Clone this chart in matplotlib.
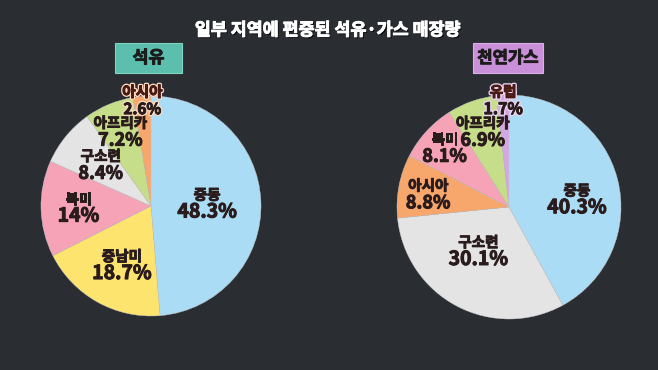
import numpy as np
import matplotlib
matplotlib.use('Agg')
import matplotlib.pyplot as plt
import matplotlib.patheffects as pe
from matplotlib.patches import Rectangle

plt.rcParams['font.family'] = ['Noto Sans CJK KR', 'DejaVu Sans']

# data
oil_regions = ['중동', '중남미', '북미', '구소련', '아프리카', '아시아']
oil_share = [48.3, 18.7, 14, 8.4, 7.2, 2.6]
oil_labels = ['48.3%', '18.7%', '14%', '8.4%', '7.2%', '2.6%']

gas_regions = ['중동', '구소련', '아시아', '북미', '아프리카', '유럽']
gas_share = [40.3, 30.1, 8.8, 8.1, 6.9, 1.7]
gas_labels = ['40.3%', '30.1%', '8.8%', '8.1%', '6.9%', '1.7%']

title = '일부 지역에 편중된 석유·가스 매장량'

# styles
bg = '#2a2e33'
ink = '#2a1c1c'
col = {'중동': '#aadcf5', '중남미': '#fde46f', '북미': '#f6a3b7', '구소련': '#e4e4e4',
       '아프리카': '#c6de8a', '아시아': '#f7a76c', '유럽': '#d3a7e2'}

oil_r = [0.51, 0.60, 0.66, 0.59, 0.73, 0.96]
oil_nudge = [0, 3, 0, 0, 0, 0]
oil_pct_size = [14, 14, 14, 13, 13, 11]

gas_r = [0.61, 0.48, 0.73, 0.78, 0.71, 0.95]
gas_nudge = [-8, -7, 2, 0, 0, 0]
gas_pct_size = [14, 14, 13, 13, 13, 11.5]


def thick(c, halo=None):
    # fake a heavier weight by stroking the glyphs in their own colour
    eff = []
    if halo:
        eff.append(pe.withStroke(linewidth=2.6, foreground=halo))
    eff.append(pe.withStroke(linewidth=0.7, foreground=c))
    return eff


def draw_pie(ax, regions, share, labels, radii, nudges, pct_sizes, halo):
    wedges, _ = ax.pie(share, colors=[col[r] for r in regions], startangle=90,
                       counterclock=False, radius=1,
                       wedgeprops=dict(linewidth=0.3, edgecolor='#c8c8c8'))
    ax.set_xlim(-1, 1)
    ax.set_ylim(-1, 1)
    for w, name, lab, r, nd, ps, h in zip(wedges, regions, labels, radii, nudges, pct_sizes, halo):
        ang = np.deg2rad((w.theta1 + w.theta2) / 2 + nd)
        x, y = r * np.cos(ang), r * np.sin(ang)
        name_col = '#4a1a14' if h else ink
        ax.annotate(name, (x, y), xytext=(0, 6.5), textcoords='offset points',
                    ha='center', va='center', fontsize=10.5, fontweight='bold',
                    color=name_col, path_effects=thick(name_col, h))
        ax.annotate(lab, (x, y), xytext=(0, -6), textcoords='offset points',
                    ha='center', va='center', fontsize=ps, fontweight='bold',
                    color=ink, path_effects=thick(ink, h))


fig = plt.figure(figsize=(6.58, 3.70), dpi=100, facecolor=bg)

fig.text(0.4985, 0.918, title, ha='center', va='center', color='white',
         fontsize=12.5, fontweight='bold',
         path_effects=[pe.withSimplePatchShadow(offset=(1, -1), shadow_rgbFace='black', alpha=0.8),
                       pe.withStroke(linewidth=0.7, foreground='white')])

# header boxes
fig.patches.append(Rectangle((115 / 658, 1 - 73 / 370), 67 / 658, 30 / 370,
                             transform=fig.transFigure, facecolor='#5cbfae',
                             edgecolor='#7fd3c3', linewidth=0.8))
fig.text(148.5 / 658, 1 - 58 / 370, '석유', ha='center', va='center',
         fontsize=12.5, fontweight='bold', color='#1c1c1c', path_effects=thick('#1c1c1c'))
fig.patches.append(Rectangle((473 / 658, 1 - 73 / 370), 70 / 658, 30 / 370,
                             transform=fig.transFigure, facecolor='#c98fd8',
                             edgecolor='#dcaee6', linewidth=0.8))
fig.text(508 / 658, 1 - 58 / 370, '천연가스', ha='center', va='center',
         fontsize=12, fontweight='bold', color='#1c1c1c', path_effects=thick('#1c1c1c'))

ax1 = fig.add_axes([(151 - 110) / 658, (370 - 206 - 110) / 370, 220 / 658, 220 / 370])
draw_pie(ax1, oil_regions, oil_share, oil_labels, oil_r, oil_nudge, oil_pct_size,
         [None, None, None, None, None, '#fbd9bf'])

ax2 = fig.add_axes([(509 - 112) / 658, (370 - 207 - 112) / 370, 224 / 658, 224 / 370])
draw_pie(ax2, gas_regions, gas_share, gas_labels, gas_r, gas_nudge, gas_pct_size,
         [None, None, None, None, None, '#ecd6f3'])

fig.savefig('out.png', dpi=100, facecolor=bg)
